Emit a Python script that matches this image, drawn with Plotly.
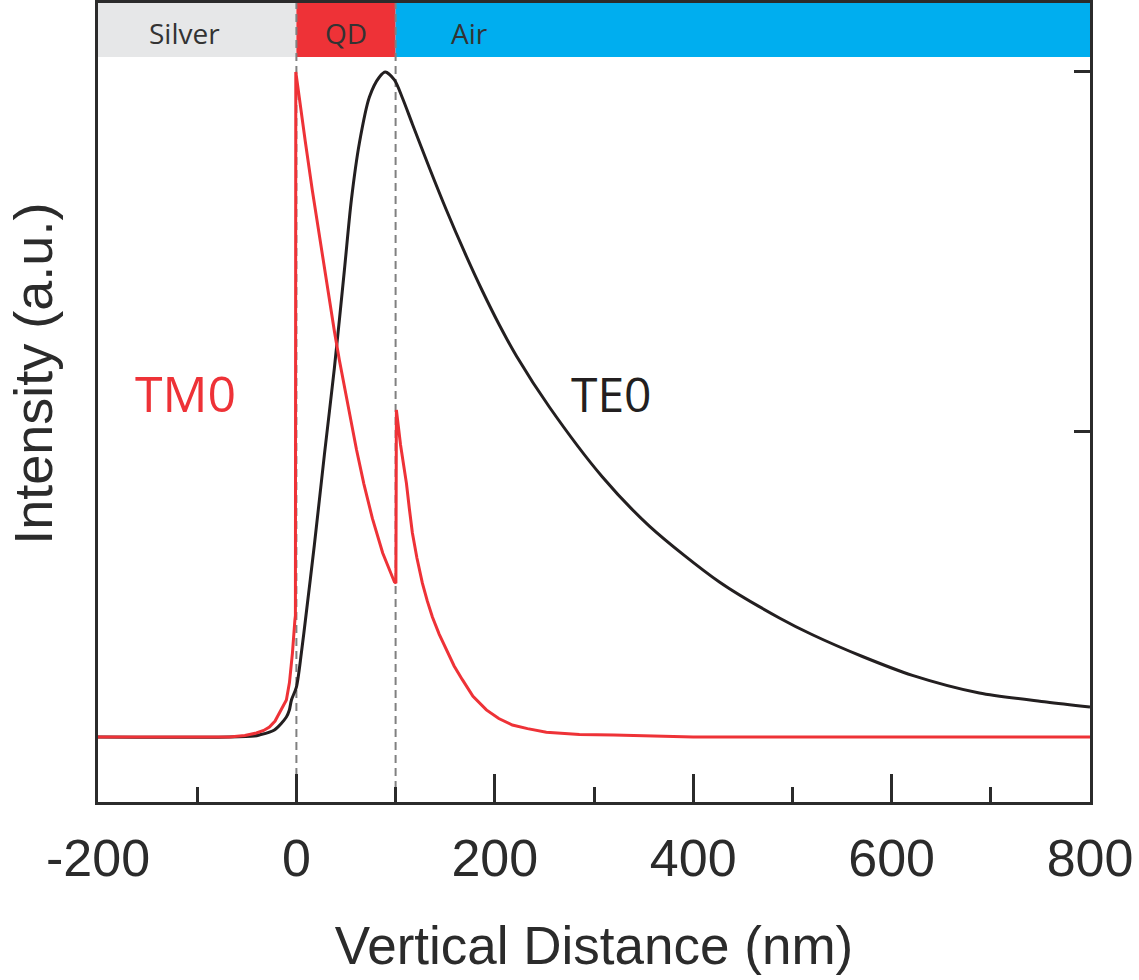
import plotly.graph_objects as go

# ---- data ----
te0_x = [-200, -67.5, -42.3, -37.3, -22.2, -10.1, -7.1, -5.0, 0.0, 5.0, 9.1, 18.1, 28.2, 38.3,
         48.4, 55.4, 63.5, 73.6, 83.7, 89.7, 98.8, 106.9, 116.9, 134.1, 151.2, 169.4, 187.5,
         204.6, 221.8, 255.0, 308.5, 355.8, 426.4, 486.9, 520.2, 570.6, 621.0, 688.5, 756.0, 800]
te0_y = [0.0764, 0.0764, 0.0778, 0.0792, 0.0861, 0.1042, 0.1139, 0.1278, 0.1458, 0.193, 0.2389,
         0.3431, 0.4681, 0.5889, 0.725, 0.8222, 0.9014, 0.9653, 0.9931, 1.0, 0.9889, 0.9639,
         0.9278, 0.8667, 0.8083, 0.75, 0.6958, 0.6486, 0.6056, 0.5347, 0.4375, 0.3694, 0.2917,
         0.2417, 0.2184, 0.1882, 0.1620, 0.1375, 0.1250, 0.1181]

tm0_x = [-200, -67.5, -52.0, -40.3, -33.0, -27.2, -21.5, -17.1, -13.5, -10.1, -7.0, -4.0,
         -1.5, -1.0, -0.6, 3.0, 9.0, 16.0, 26.0, 38.3, 43.3, 51.0, 60.5, 68.0, 76.6, 87.0,
         98.8, 100.3, 100.8, 105.0, 110.9, 113.9, 116.9, 121.5, 127.0, 132.0, 137.1, 144.0,
         151.2, 159.0, 167.3, 178.0, 191.5, 204.0, 217.7, 233.0, 252.0, 285.3, 320.0, 356.0,
         400.0, 800]
tm0_y = [0.0764, 0.0764, 0.0785, 0.0819, 0.0855, 0.0903, 0.0985, 0.1097, 0.117, 0.1278,
         0.152, 0.193, 0.239, 0.245, 1.0, 0.966, 0.903, 0.836, 0.745, 0.640, 0.600, 0.542,
         0.476, 0.428, 0.380, 0.332, 0.2917, 0.29, 0.5306, 0.482, 0.429, 0.393, 0.360,
         0.325, 0.290, 0.265, 0.243, 0.219, 0.197, 0.175, 0.156, 0.133, 0.114, 0.102, 0.093,
         0.088, 0.083, 0.080, 0.079, 0.0778, 0.0764, 0.0764]

regions = ["Silver", "QD", "Air"]
region_start = [-200, 0, 100]
region_end = [0, 100, 800]
region_colors = ["#E6E7E8", "#EE3237", "#00AEEF"]
region_label_x = [-113, 50, 174]

x_major = [-200, 0, 200, 400, 600, 800]
x_major_text = ["-200", "0", "200", "400", "600", "800"]
x_minor = [-100, 100, 300, 500, 700]
y_ticks = [0.5, 1.0]

AX = "#2b2b2b"
fig = go.Figure()

fig.add_trace(go.Scatter(x=te0_x, y=te0_y, mode="lines", name="TE0",
                         line=dict(color="#231F20", width=3, shape="spline", smoothing=0.8),
                         showlegend=False))
fig.add_trace(go.Scatter(x=tm0_x, y=tm0_y, mode="lines", name="TM0",
                         line=dict(color="#EE3237", width=3), showlegend=False))

shapes = []
for s, e, c in zip(region_start, region_end, region_colors):
    shapes.append(dict(type="rect", xref="x", yref="paper", x0=s, x1=e, y0=0.9324, y1=1.0,
                       fillcolor=c, line=dict(width=0), layer="below"))
for xv in [0, 100]:
    shapes.append(dict(type="line", xref="x", yref="paper", x0=xv, x1=xv, y0=0, y1=1,
                       line=dict(color="#808080", width=2, dash="8px,5px"), layer="below"))

annotations = []
for name, lx in zip(regions, region_label_x):
    annotations.append(dict(x=lx, y=0.9625, xref="x", yref="paper", text=name, showarrow=False,
                            xanchor="center", yanchor="middle",
                            font=dict(family="Open Sans", size=28, color="#333333")))
annotations.append(dict(x=-112, y=0.554, xref="x", yref="y", text="TM0", showarrow=False,
                        xanchor="center", yanchor="middle",
                        font=dict(family="Open Sans", size=50, color="#EE3237")))
annotations.append(dict(x=317.5, y=0.553, xref="x", yref="y", text="TE0", showarrow=False,
                        xanchor="center", yanchor="middle",
                        font=dict(family="Open Sans", size=48, color="#231F20")))
annotations.append(dict(x=-0.0655, y=0.536, xref="paper", yref="paper", text="Intensity (a.u.)",
                        textangle=-90, showarrow=False, xanchor="center", yanchor="middle",
                        font=dict(family="Liberation Sans, Arial", size=54, color="#2b2b2b")))

fig.update_layout(
    width=1139, height=980,
    margin=dict(l=98, r=49, t=3, b=178),
    paper_bgcolor="white", plot_bgcolor="white",
    shapes=shapes, annotations=annotations,
    xaxis=dict(range=[-200, 800], tickmode="array", tickvals=x_major, ticktext=x_major_text,
               ticks="inside", ticklen=28, tickwidth=3, tickcolor=AX,
               minor=dict(tickmode="array", tickvals=x_minor, ticks="inside", ticklen=15,
                          tickwidth=3, tickcolor=AX, showgrid=False),
               showline=True, linewidth=3, linecolor=AX, mirror=True, automargin=False,
               showgrid=False, zeroline=False, ticklabelstandoff=9,
               tickfont=dict(family="Liberation Sans, Arial", size=52, color="#2b2b2b"),
               title=dict(text="Vertical Distance (nm)", standoff=41,
                          font=dict(family="Liberation Sans, Arial", size=53, color="#2b2b2b"))),
    yaxis=dict(range=[-0.0139, 1.0958], side="right", tickmode="array", tickvals=y_ticks,
               ticks="inside", ticklen=16, tickwidth=3, tickcolor=AX, showticklabels=False,
               showline=True, linewidth=3, linecolor=AX, mirror=True, automargin=False,
               showgrid=False, zeroline=False),
)

fig.write_html("out.html", config={"displayModeBar": False},
               post_script="document.body.style.margin='0';")
